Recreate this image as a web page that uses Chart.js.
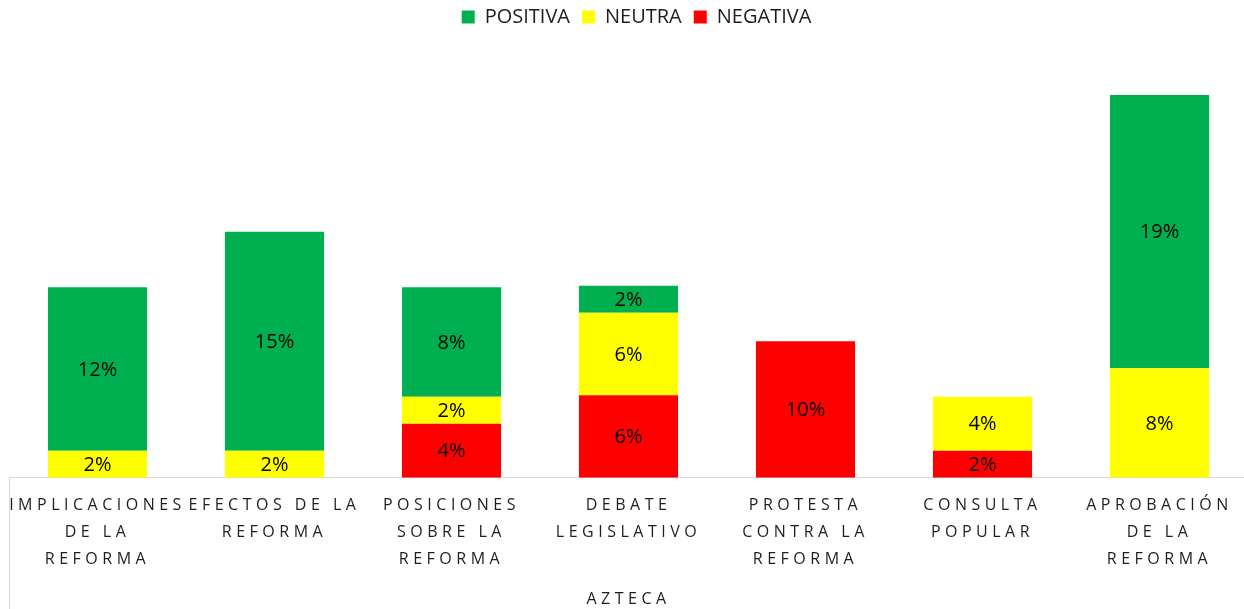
<!DOCTYPE html>
<html>
<head>
<meta charset="utf-8">
<script src="https://cdn.jsdelivr.net/npm/chart.js@4.4.1/dist/chart.umd.min.js"></script>
<style>
  html, body { margin: 0; padding: 0; background: #fff; overflow: hidden; }
  #wrap { width: 1248px; height: 609px; }
</style>
</head>
<body>
<div id="wrap"><canvas id="chart"></canvas></div>
<script>
(function () {
  "use strict";

  var categories = [
    ["IMPLICACIONES", "DE LA", "REFORMA"],
    ["EFECTOS DE LA", "REFORMA"],
    ["POSICIONES", "SOBRE LA", "REFORMA"],
    ["DEBATE", "LEGISLATIVO"],
    ["PROTESTA", "CONTRA LA", "REFORMA"],
    ["CONSULTA", "POPULAR"],
    ["APROBACIÓN", "DE LA", "REFORMA"]
  ];
  var positiva = [11.5, 15.4, 7.7, 1.9, 0, 0, 19.2];
  var neutra = [1.9, 1.9, 1.9, 5.8, 0, 3.8, 7.7];
  var negativa = [0, 0, 3.8, 5.8, 9.6, 1.9, 0];
  var axisTitle = "AZTECA";

  var FONT = "'Open Sans', sans-serif";
  var TEXT = "#1e1e1e";
  var SPACING = "4.5px";

  // percent labels in the middle of each segment
  var barLabels = {
    id: "barLabels",
    afterDatasetsDraw: function (chart) {
      var ctx = chart.ctx;
      ctx.save();
      ctx.font = "20px " + FONT;
      ctx.fillStyle = "#000";
      ctx.textAlign = "center";
      ctx.textBaseline = "middle";
      chart.data.datasets.forEach(function (ds, di) {
        var meta = chart.getDatasetMeta(di);
        meta.data.forEach(function (bar, i) {
          var v = ds.data[i];
          if (!v) return;
          var p = bar.getCenterPoint();
          ctx.fillText(Math.round(v) + "%", p.x, p.y + 1);
        });
      });
      ctx.restore();
    }
  };

  // wide character spacing on the category axis, plus the group divider
  var spacedAxis = {
    id: "spacedAxis",
    afterLayout: function (chart) {
      var scale = chart.scales.x;
      if (scale._spaced) return;
      scale._spaced = true;
      var drawLabels = scale.drawLabels;
      var drawTitle = scale.drawTitle;
      scale.drawLabels = function (area) {
        this.ctx.save();
        this.ctx.letterSpacing = SPACING;
        drawLabels.call(this, area);
        this.ctx.restore();
      };
      scale.drawTitle = function () {
        this.ctx.save();
        this.ctx.letterSpacing = SPACING;
        drawTitle.call(this);
        this.ctx.restore();
      };
    },
    afterDraw: function (chart) {
      var s = chart.scales.x;
      var ctx = chart.ctx;
      ctx.save();
      ctx.strokeStyle = "#d9d9d9";
      ctx.lineWidth = 1;
      ctx.beginPath();
      ctx.moveTo(Math.round(s.left) + 0.5, s.top);
      ctx.lineTo(Math.round(s.left) + 0.5, chart.height);
      ctx.stroke();
      ctx.restore();
    }
  };

  // extra room under the legend, and nudge it up/right like the original
  var legendPlace = {
    id: "legendPlace",
    beforeInit: function (chart) {
      var fit = chart.legend.fit;
      chart.legend.fit = function () {
        fit.call(this);
        this.height += 9;
      };
    },
    afterLayout: function (chart) {
      var lg = chart.legend;
      lg.top -= 5;
      lg.bottom -= 5;
      lg.left += 8;
      lg.right += 8;
    }
  };

  new Chart(document.getElementById("chart"), {
    type: "bar",
    data: {
      labels: categories,
      datasets: [
        { label: "NEGATIVA", data: negativa, backgroundColor: "#ff0000" },
        { label: "NEUTRA", data: neutra, backgroundColor: "#ffff00" },
        { label: "POSITIVA", data: positiva, backgroundColor: "#00b050" }
      ]
    },
    options: {
      responsive: true,
      maintainAspectRatio: false,
      animation: false,
      datasets: {
        bar: { categoryPercentage: 1, barPercentage: 0.56, borderWidth: 0 }
      },
      layout: { padding: { left: 9, right: 0, top: 0, bottom: 0 } },
      scales: {
        x: {
          stacked: true,
          offset: true,
          grid: { display: false },
          border: { display: true, color: "#d9d9d9", width: 1 },
          ticks: {
            color: TEXT,
            font: { family: FONT, size: 16, lineHeight: "27px" },
            padding: 6,
            maxRotation: 0,
            autoSkip: false
          },
          title: {
            display: true,
            text: axisTitle,
            color: TEXT,
            font: { family: FONT, size: 16, lineHeight: 1.2 },
            padding: { top: 11, bottom: 0 }
          }
        },
        y: {
          stacked: true,
          display: false,
          min: 0,
          max: 30
        }
      },
      plugins: {
        legend: {
          position: "top",
          reverse: true,
          labels: {
            color: TEXT,
            font: { family: FONT, size: 20 },
            boxWidth: 13,
            boxHeight: 13,
            padding: 12
          }
        },
        tooltip: { enabled: false }
      }
    },
    plugins: [legendPlace, spacedAxis, barLabels]
  });
})();
</script>
</body>
</html>
